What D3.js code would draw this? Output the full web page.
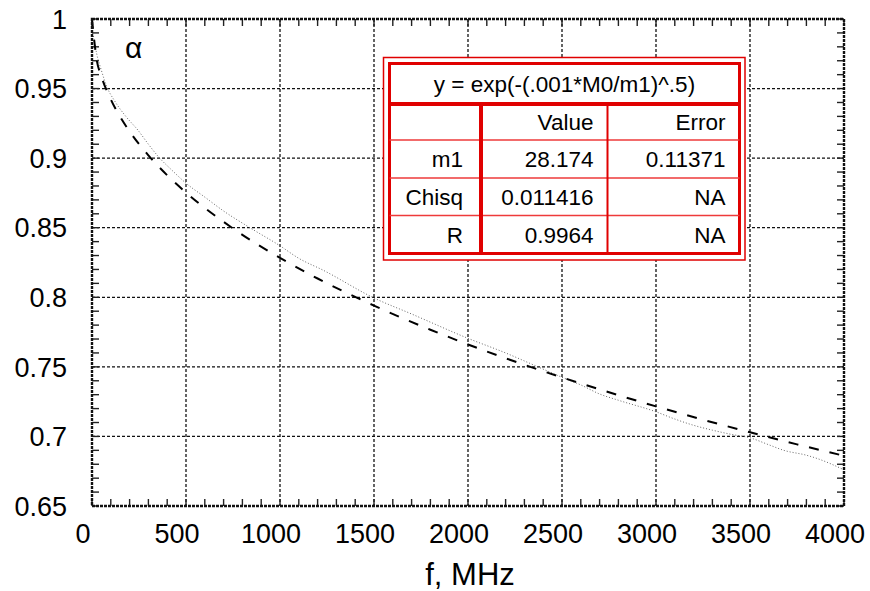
<!DOCTYPE html>
<html><head><meta charset="utf-8">
<script src="https://cdn.jsdelivr.net/npm/d3@7"></script>
<style>body{margin:0;background:#fff}svg{display:block;font-family:"Liberation Sans",Arial,sans-serif}</style>
</head><body>
<svg id="c" width="870" height="591"></svg>
<script>
// Fitted curve (dashed)
const fitF = [0,25,50,100,150,200,300,400,500,600,700,800,1000,1200,1500,1800,2000,2200,2500,2750,3000,3250,3500,3750,4000];
const fitAlpha = [1.0,0.9707,0.9587,0.9422,0.9296,0.9192,0.9020,0.8877,0.8753,0.8642,0.8542,0.8449,0.8283,0.8135,0.7940,0.7767,0.7661,0.7562,0.7424,0.7317,0.7216,0.7120,0.7030,0.6943,0.6861];
// Measured curve (dotted)
const measF = [5,25,50,80,121,180,245,300,360,420,500,600,700,840,1000,1100,1229,1500,1700,2000,2200,2350,2500,2600,2700,2800,3000,3100,3200,3300,3400,3500,3600,3680,3800,3860,4000];
const measAlpha = [0.99,0.975,0.963,0.951,0.941,0.930,0.920,0.910,0.900,0.892,0.882,0.872,0.862,0.850,0.837,0.828,0.8195,0.7995,0.788,0.7705,0.760,0.7513,0.7425,0.737,0.7305,0.726,0.7177,0.7125,0.708,0.7045,0.7015,0.699,0.694,0.690,0.6865,0.684,0.676];
const xTicks = [0,500,1000,1500,2000,2500,3000,3500,4000];
const yTicks = [0.65,0.7,0.75,0.8,0.85,0.9,0.95,1];
const yTickLabels = ["0.65","0.7","0.75","0.8","0.85","0.9","0.95","1"];
const tableTitle = "y = exp(-(.001*M0/m1)^.5)";
const tableHeader = ["", "Value", "Error"];
const tableRows = [["m1","28.174","0.11371"],["Chisq","0.011416","NA"],["R","0.9964","NA"]];

const svg = d3.select("#c");
const L=92,R=844,T=19,B=506;
const x = d3.scaleLinear().domain([0,4000]).range([L,R]);
const y = d3.scaleLinear().domain([0.65,1]).range([B,T]);

// grid
const g = svg.append("g");
g.selectAll(".gx").data(xTicks.slice(1,-1)).join("line")
  .attr("x1",d=>x(d)).attr("x2",d=>x(d)).attr("y1",T).attr("y2",B)
  .attr("stroke","#111").attr("stroke-width",1.3).attr("stroke-dasharray","3,2");
g.selectAll(".gy").data(yTicks.slice(1,-1)).join("line")
  .attr("y1",d=>y(d)).attr("y2",d=>y(d)).attr("x1",L).attr("x2",R)
  .attr("stroke","#111").attr("stroke-width",1.3).attr("stroke-dasharray","3,2");

// minor ticks
const mx = d3.range(0,4001,100);
const my = d3.range(65,101,1).map(v=>v/100);
const tl=7;
g.selectAll(".tb").data(mx).join("line").attr("x1",d=>x(d)).attr("x2",d=>x(d)).attr("y1",B).attr("y2",B-tl).attr("stroke","#222").attr("stroke-width",1.4);
g.selectAll(".tt").data(mx).join("line").attr("x1",d=>x(d)).attr("x2",d=>x(d)).attr("y1",T).attr("y2",T+tl).attr("stroke","#222").attr("stroke-width",1.4);
g.selectAll(".tl").data(my).join("line").attr("y1",d=>y(d)).attr("y2",d=>y(d)).attr("x1",L).attr("x2",L+tl).attr("stroke","#222").attr("stroke-width",1.4);
g.selectAll(".tr").data(my).join("line").attr("y1",d=>y(d)).attr("y2",d=>y(d)).attr("x1",R).attr("x2",R-tl).attr("stroke","#222").attr("stroke-width",1.4);

// curves
const line = d3.line().x(d=>x(d[0])).y(d=>y(d[1])).curve(d3.curveMonotoneX);
svg.append("path").attr("d",line(measF.map((f,i)=>[f,measAlpha[i]])))
  .attr("fill","none").attr("stroke","#666").attr("stroke-width",1).attr("stroke-dasharray","1,2");
svg.append("path").attr("d",line(fitF.map((f,i)=>[f,fitAlpha[i]])))
  .attr("fill","none").attr("stroke","#000").attr("stroke-width",2).attr("stroke-dasharray","10,11");

// frame
svg.append("rect").attr("x",L).attr("y",T).attr("width",R-L).attr("height",B-T)
  .attr("fill","none").attr("stroke","#111").attr("stroke-width",2.4).attr("stroke-dasharray","3,1");

// axis labels
svg.selectAll(".xl").data(xTicks).join("text").attr("x",d=>x(d)-9).attr("y",543)
  .attr("text-anchor","middle").attr("font-size",27).attr("fill","#000").text(d=>d);
svg.selectAll(".yl").data(yTicks).join("text").attr("x",67).attr("y",d=>y(d)).attr("dy","0.36em")
  .attr("text-anchor","end").attr("font-size",27).attr("fill","#000").text((d,i)=>yTickLabels[i]);
svg.append("text").attr("x",470).attr("y",585).attr("text-anchor","middle").attr("font-size",31).text("f, MHz");
svg.append("text").attr("x",125).attr("y",58).attr("font-size",30).text("α");

// table
const red="#e00000";
const tb = svg.append("g");
tb.append("rect").attr("x",383.5).attr("y",57.5).attr("width",361.5).attr("height",202.5).attr("fill","#fff").attr("stroke",red).attr("stroke-width",1.5);
tb.append("rect").attr("x",389.5).attr("y",63.5).attr("width",350).attr("height",190).attr("fill","#fff").attr("stroke",red).attr("stroke-width",3);
const colX=[389.5,481,607.5,739.5];
const rowY=[63.5,104,140,178,215.5,253.5];
tb.append("line").attr("x1",colX[0]).attr("x2",colX[3]).attr("y1",rowY[1]).attr("y2",rowY[1]).attr("stroke",red).attr("stroke-width",4);
[2,3,4].forEach(i=>tb.append("line").attr("x1",colX[0]).attr("x2",colX[3]).attr("y1",rowY[i]).attr("y2",rowY[i]).attr("stroke","#ee3a3a").attr("stroke-width",1.5));
tb.append("line").attr("x1",colX[1]).attr("x2",colX[1]).attr("y1",rowY[1]).attr("y2",rowY[5]).attr("stroke",red).attr("stroke-width",4);
tb.append("line").attr("x1",colX[2]).attr("x2",colX[2]).attr("y1",rowY[1]).attr("y2",rowY[5]).attr("stroke",red).attr("stroke-width",2);
tb.append("text").attr("x",(colX[0]+colX[3])/2).attr("y",(rowY[0]+rowY[1])/2).attr("dy","0.36em")
  .attr("text-anchor","middle").attr("font-size",22.5).text(tableTitle);
const rows=[tableHeader,...tableRows];
rows.forEach((r,ri)=>{
  r.forEach((t,ci)=>{
    tb.append("text").attr("x",colX[ci+1]-(ci===0?18:14)).attr("y",(rowY[ri+1]+rowY[ri+2])/2).attr("dy","0.36em")
      .attr("text-anchor","end").attr("font-size",22.5).text(t);
  });
});
</script>
</body></html>
